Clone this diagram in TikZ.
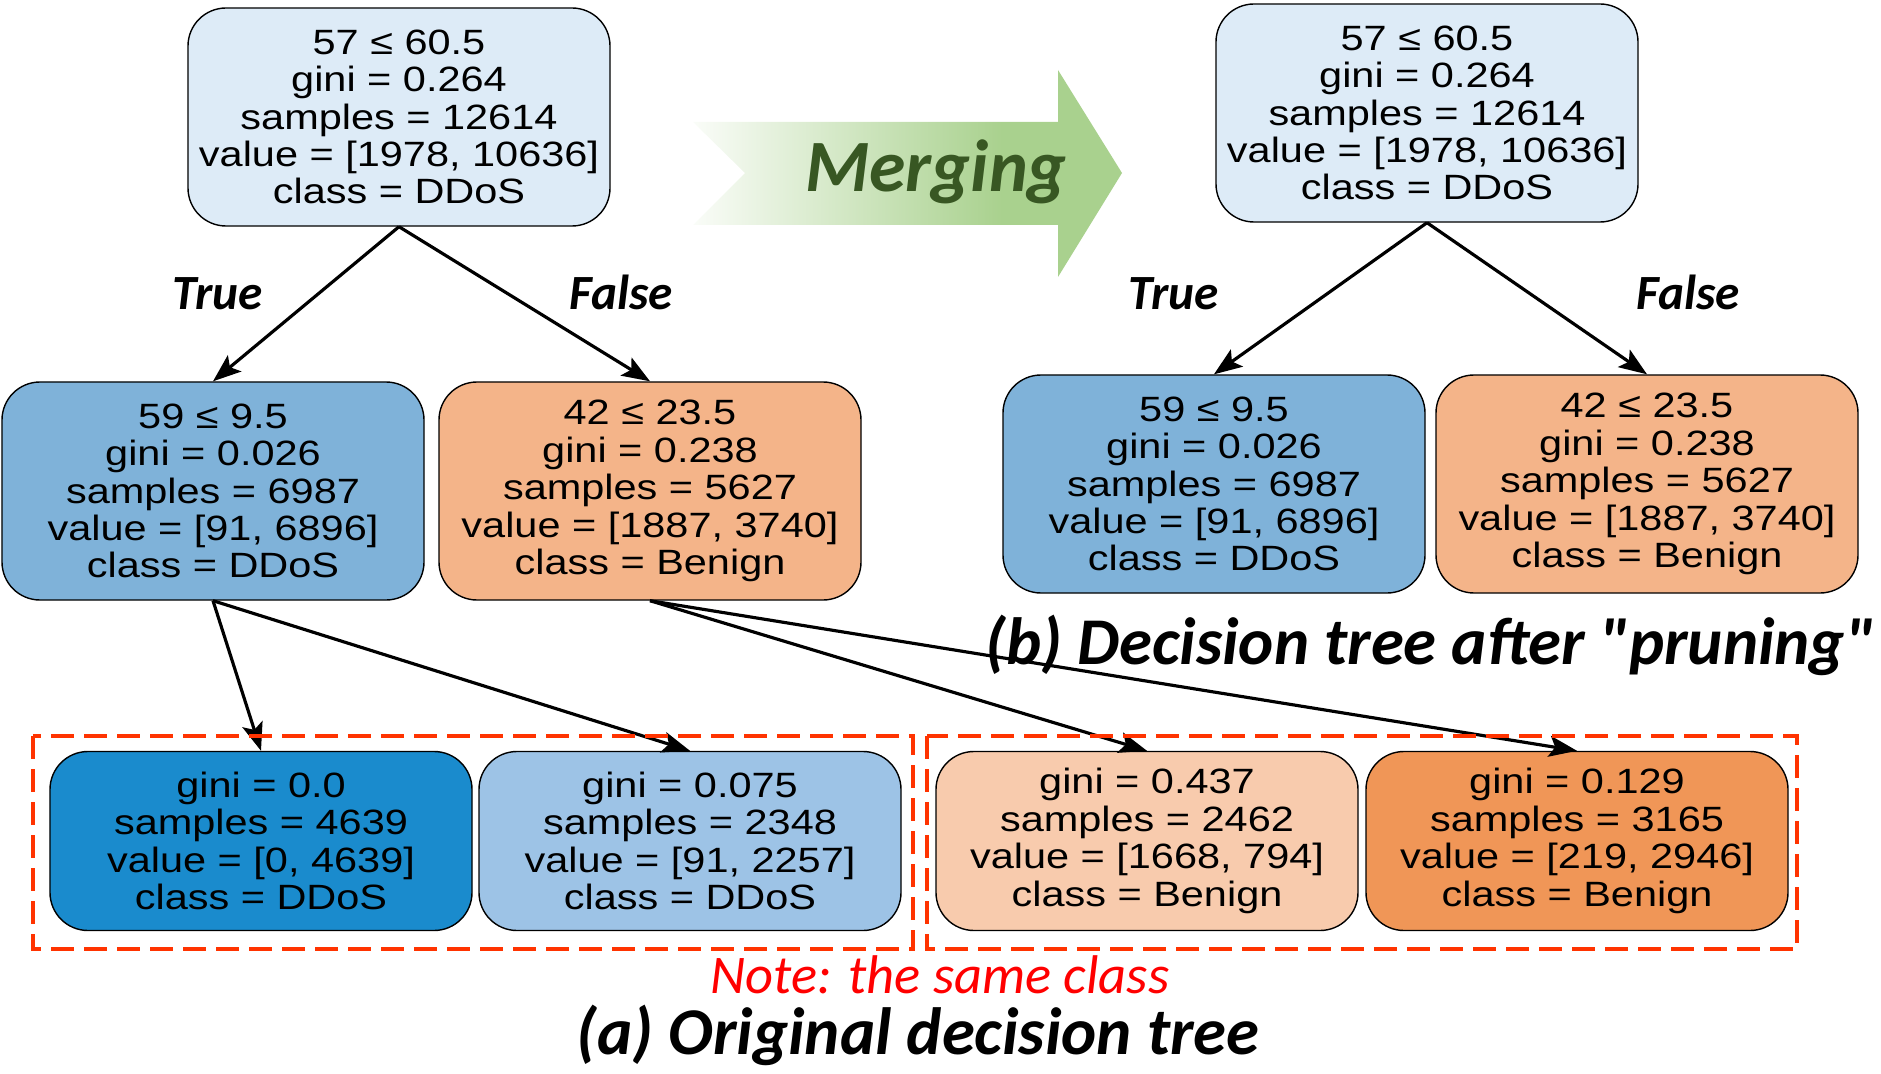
\documentclass[tikz,border=0pt]{standalone}
\usepackage{fontspec}
\setmainfont[FakeStretch=1.18]{Liberation Sans}
\newfontfamily\capfont{Carlito}
\usetikzlibrary{arrows.meta}
\definecolor{cmerge}{rgb}{0.663,0.820,0.557}
\pgfdeclarehorizontalshading{mergefade}{100bp}{color(0bp)=(white); color(25bp)=(cmerge!6); color(61bp)=(cmerge); color(100bp)=(cmerge)}

\begin{document}
\begin{tikzpicture}[x=0.2mm,y=-0.2mm,
  treenode/.style={shape=rectangle,rounded corners=7.6mm,draw=black,line width=0.8pt,
    minimum width=84.4mm,minimum height=43.6mm,inner sep=0pt,align=center,
    font=\fontsize{20}{21.3}\selectfont},
  leafnode/.style={treenode,minimum height=35.8mm},
  edgearrow/.style={-{Stealth[length=5.6mm,width=4.2mm,inset=1.2mm]},line width=1.8pt},
  branchlabel/.style={anchor=base,font=\capfont\bfseries\itshape\fontsize{28}{30}\selectfont},
  captext/.style={anchor=base,font=\capfont\bfseries\itshape\fontsize{38}{40}\selectfont},
  sameclass/.style={draw=csame,line width=0.66mm,dash pattern=on 4.6mm off 2mm}]
\definecolor{cfa0}{rgb}{0.867,0.922,0.969}
\definecolor{cfa1}{rgb}{0.498,0.698,0.851}
\definecolor{cfa2}{rgb}{0.957,0.706,0.537}
\definecolor{cfa3}{rgb}{0.102,0.545,0.804}
\definecolor{cfa4}{rgb}{0.616,0.765,0.902}
\definecolor{cfa5}{rgb}{0.973,0.796,0.678}
\definecolor{cfa6}{rgb}{0.941,0.588,0.341}
\definecolor{cmergetext}{rgb}{0.220,0.341,0.137}
\definecolor{csame}{rgb}{1.0,0.2,0.0}
\definecolor{cnote}{rgb}{1.0,0.0,0.0}
%
\useasboundingbox (0,0) rectangle (1881,1074);
%
\shade[shading=mergefade] (693,122) -- (1058,122) -- (1058,70) -- (1122,173) -- (1058,277)
  -- (1058,225) -- (693,225) -- (745,173) -- cycle;
\node[anchor=base,text=cmergetext,font=\capfont\bfseries\itshape\fontsize{42}{44}\selectfont] (merge) at (936,192) {Merging};
%
\node[treenode,fill=cfa0] (a0) at (399,117) {57 ≤ 60.5\\gini = 0.264\\samples = 12614\\value = [1978, 10636]\\class = DDoS};
\node[treenode,fill=cfa1] (a1) at (213,491) {59 ≤ 9.5\\gini = 0.026\\samples = 6987\\value = [91, 6896]\\class = DDoS};
\node[treenode,fill=cfa2] (a2) at (650,491) {42 ≤ 23.5\\gini = 0.238\\samples = 5627\\value = [1887, 3740]\\class = Benign};
\node[leafnode,fill=cfa3] (a3) at (261,841) {gini = 0.0\\samples = 4639\\value = [0, 4639]\\class = DDoS};
\node[leafnode,fill=cfa4] (a4) at (690,841) {gini = 0.075\\samples = 2348\\value = [91, 2257]\\class = DDoS};
\node[leafnode,fill=cfa5] (a5) at (1147,841) {gini = 0.437\\samples = 2462\\value = [1668, 794]\\class = Benign};
\node[leafnode,fill=cfa6] (a6) at (1577,841) {gini = 0.129\\samples = 3165\\value = [219, 2946]\\class = Benign};
%
\node[treenode,fill=cfa0] (b0) at (1427,113) {57 ≤ 60.5\\gini = 0.264\\samples = 12614\\value = [1978, 10636]\\class = DDoS};
\node[treenode,fill=cfa1] (b1) at (1214,484) {59 ≤ 9.5\\gini = 0.026\\samples = 6987\\value = [91, 6896]\\class = DDoS};
\node[treenode,fill=cfa2] (b2) at (1647,484) {42 ≤ 23.5\\gini = 0.238\\samples = 5627\\value = [1887, 3740]\\class = Benign};
%
\draw[edgearrow] (a0.south) -- (a1.north);
\draw[edgearrow] (a0.south) -- (a2.north);
\draw[edgearrow] (a1.south) -- (a3.north);
\draw[edgearrow] (a1.south) -- (a4.north);
\draw[edgearrow] (a2.south) -- (a5.north);
\draw[edgearrow] (a2.south) -- (a6.north);
\draw[edgearrow] (b0.south) -- (b1.north);
\draw[edgearrow] (b0.south) -- (b2.north);
%
\node[branchlabel] (ta) at (218,310) {True};
\node[branchlabel] (fa) at (621,310) {False};
\node[branchlabel] (tb) at (1174,310) {True};
\node[branchlabel] (fb) at (1688,310) {False};
%
\draw[sameclass] (33,736) rectangle (913,949);
\draw[sameclass] (927,736) rectangle (1797,949);
\node[anchor=base,text=cnote,font=\capfont\itshape\fontsize{31}{33}\selectfont] (note) at (940,993) {Note: the same class};
%
\node[captext] (capa) at (918,1054) {(a) Original decision tree};
\node[captext] (capb) at (1430,664) {(b) Decision tree after "pruning"};
%
\end{tikzpicture}
\end{document}
